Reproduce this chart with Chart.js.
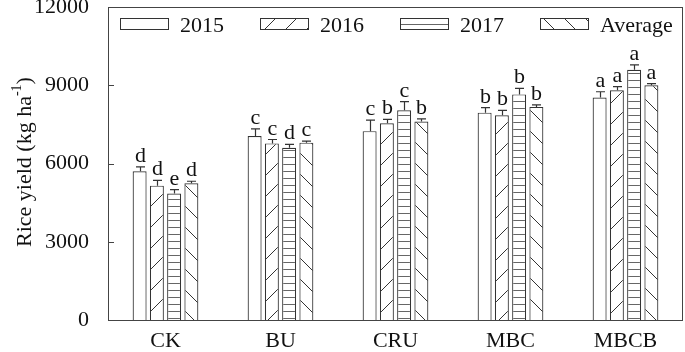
<!DOCTYPE html>
<html>
<head>
<meta charset="utf-8">
<script src="https://cdn.jsdelivr.net/npm/chart.js@4.4.0/dist/chart.umd.min.js"></script>
<style>
  html, body { margin: 0; padding: 0; background: #fff; }
</style>
</head>
<body>
<canvas id="chart" width="685" height="352"></canvas>
<script>
// values
const treatments = ['CK', 'BU', 'CRU', 'MBC', 'MBCB'];
const yearLabels = ['2015', '2016', '2017', 'Average'];
const yield2015 = [5700, 7050, 7240, 7950, 8530];
const yield2016 = [5150, 6770, 7540, 7850, 8810];
const yield2017 = [4850, 6600, 8040, 8650, 9590];
const yieldAvg = [5240, 6800, 7610, 8170, 9000];
const err2015 = [170, 280, 420, 190, 220];
const err2016 = [200, 150, 150, 190, 140];
const err2017 = [150, 130, 330, 230, 190];
const errAvg = [80, 60, 100, 80, 65];
const letters2015 = ['d', 'c', 'c', 'b', 'a'];
const letters2016 = ['d', 'c', 'b', 'b', 'a'];
const letters2017 = ['e', 'd', 'c', 'b', 'a'];
const lettersAvg = ['d', 'c', 'b', 'b', 'a'];
const yTicks = [0, 3000, 6000, 9000, 12000];

const FONT = '"Liberation Serif", "Times New Roman", serif';
const INK = '#333';

function makePattern(kind) {
    const size = kind === 'hline' ? 7 : 21;
    const c = document.createElement('canvas');
    c.width = size;
    c.height = size;
    const g = c.getContext('2d');
    g.fillStyle = '#fff';
    g.fillRect(0, 0, size, size);
    g.strokeStyle = kind === 'hline' ? '#666' : INK;
    g.lineWidth = 1;
    g.beginPath();
    if (kind === 'hline') {
        g.moveTo(0, 3.5);
        g.lineTo(size, 3.5);
    } else {
        for (const k of [-size, 0, size]) {
            if (kind === 'fwd') {
                g.moveTo(k, size);
                g.lineTo(k + size, 0);
            } else {
                g.moveTo(k, 0);
                g.lineTo(k + size, size);
            }
        }
    }
    g.stroke();
    return g.createPattern(c, 'repeat');
}

const makeSet = (label, data, errors, letters, kind) => ({
    label,
    data,
    errors,
    letters,
    backgroundColor: kind === 'none' ? '#fff' : makePattern(kind),
    borderColor: INK,
    borderWidth: 1.2,
    categoryPercentage: 0.6,
    barPercentage: 0.81,
});

const extras = {
    id: 'extras',
    afterDatasetsDraw(chart) {
        const { ctx, chartArea: a, scales: { y } } = chart;
        ctx.save();
        ctx.strokeStyle = INK;
        ctx.fillStyle = '#111';
        ctx.lineWidth = 1.2;

        // error bars and significance letters
        ctx.font = '22px ' + FONT;
        ctx.textAlign = 'center';
        ctx.textBaseline = 'alphabetic';
        chart.data.datasets.forEach((ds, i) => {
            chart.getDatasetMeta(i).data.forEach((bar, j) => {
                const top = y.getPixelForValue(ds.data[j] + ds.errors[j]);
                const x = Math.round(bar.x) + 0.5;
                ctx.beginPath();
                ctx.moveTo(x, bar.y);
                ctx.lineTo(x, top);
                ctx.moveTo(x - 4.5, top);
                ctx.lineTo(x + 4.5, top);
                ctx.stroke();
                ctx.fillText(ds.letters[j], x, top - 5);
            });
        });

        // frame and inward ticks
        ctx.lineWidth = 1;
        ctx.strokeStyle = '#444';
        ctx.strokeRect(a.left + 0.5, a.top + 0.5, a.width - 1, a.height);
        ctx.beginPath();
        yTicks.forEach(v => {
            const py = Math.round(y.getPixelForValue(v)) + 0.5;
            ctx.moveTo(a.left, py);
            ctx.lineTo(a.left + 6, py);
        });
        ctx.stroke();

        // legend inside the plot box
        ctx.textAlign = 'left';
        ctx.font = '22px ' + FONT;
        chart.data.datasets.forEach((ds, i) => {
            const bx = a.left + 12 + i * 140;
            ctx.fillStyle = ds.backgroundColor;
            ctx.fillRect(bx, 18, 48, 11);
            ctx.strokeStyle = INK;
            ctx.strokeRect(bx + 0.5, 18.5, 48, 11);
            ctx.fillStyle = '#111';
            ctx.fillText(ds.label, bx + 60, 32);
        });

        // y axis title with superscript
        ctx.translate(25, 162);
        ctx.rotate(-Math.PI / 2);
        const main = 'Rice yield (kg ha';
        ctx.font = '22px ' + FONT;
        const w1 = ctx.measureText(main).width;
        const w3 = ctx.measureText(')').width;
        ctx.font = '14px ' + FONT;
        const w2 = ctx.measureText('-1').width;
        let x0 = -(w1 + w2 + w3) / 2;
        ctx.textBaseline = 'middle';
        ctx.font = '22px ' + FONT;
        ctx.fillText(main, x0, 0);
        ctx.font = '14px ' + FONT;
        ctx.fillText('-1', x0 + w1, -8);
        ctx.font = '22px ' + FONT;
        ctx.fillText(')', x0 + w1 + w2, 0);
        ctx.restore();
    }
};

new Chart(document.getElementById('chart'), {
    type: 'bar',
    data: {
        labels: treatments,
        datasets: [
            makeSet(yearLabels[0], yield2015, err2015, letters2015, 'none'),
            makeSet(yearLabels[1], yield2016, err2016, letters2016, 'fwd'),
            makeSet(yearLabels[2], yield2017, err2017, letters2017, 'hline'),
            makeSet(yearLabels[3], yieldAvg, errAvg, lettersAvg, 'back'),
        ],
    },
    options: {
        responsive: false,
        devicePixelRatio: 1,
        animation: false,
        layout: { padding: { top: 7, right: 2, left: 0, bottom: 0 } },
        plugins: { legend: { display: false }, tooltip: { enabled: false } },
        scales: {
            x: {
                grid: { display: false },
                border: { display: false },
                ticks: { color: '#111', font: { family: FONT, size: 22 }, padding: 0 },
                afterFit: s => { s.height = 32; s.paddingLeft = 0; s.paddingRight = 0; },
            },
            y: {
                min: 0,
                max: 12000,
                grid: { display: false },
                border: { display: false },
                ticks: {
                    color: '#111',
                    font: { family: FONT, size: 22 },
                    padding: 11,
                    callback: v => String(v),
                },
                afterBuildTicks: s => { s.ticks = yTicks.map(v => ({ value: v })); },
                afterFit: s => { s.width = 108; s.paddingTop = 0; s.paddingBottom = 0; },
            },
        },
    },
    plugins: [extras],
});
</script>
</body>
</html>
